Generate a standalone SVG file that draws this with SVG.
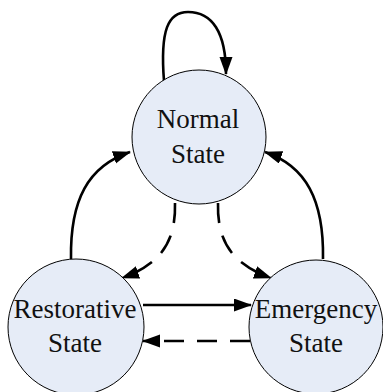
<svg xmlns="http://www.w3.org/2000/svg" width="383" height="392" viewBox="0 0 383 392">
  <style>
    .state circle { fill: #e6ecf7; stroke: #000; stroke-width: 1; }
    .state text { font-family: "Liberation Serif", "Times New Roman", serif; font-size: 27px; fill: #111; text-anchor: middle; }
    .edge { fill: none; stroke: #000; stroke-width: 2.6; marker-end: url(#head); }
    .dashed { stroke-dasharray: 20 13; }
  </style>
  <defs>
    <marker id="head" markerUnits="userSpaceOnUse" markerWidth="20" markerHeight="14" refX="17" refY="6.5" orient="auto">
      <path d="M0,0 L18,6.5 L0,13 Z" fill="#000"/>
    </marker>
  </defs>
  <rect width="383" height="392" fill="#fff"/>

  <!-- transitions -->
  <g id="connectors">
    <path class="edge" d="M164,81 C160,30 168,12 188,12 C212,12 226,32 226,74"/>
    <path class="edge" d="M71,259 C70,200 88,166 130,152"/>
    <path class="edge" d="M323,259 C324,200 306,166 265,152"/>
    <path class="edge dashed" d="M175,203 C176,240 162,264 122,278"/>
    <path class="edge dashed" d="M218,203 C217,240 231,264 271,278"/>
    <path class="edge" d="M143,305 L251,305"/>
    <path class="edge dashed" d="M250,341 L143,341"/>
  </g>

  <g id="normal" class="state">
    <circle cx="199" cy="137" r="67"/>
    <text x="198" y="128">Normal</text>
    <text x="198" y="163">State</text>
  </g>
  <g id="restorative" class="state">
    <circle cx="76" cy="327" r="68"/>
    <text x="75" y="318">Restorative</text>
    <text x="75" y="352">State</text>
  </g>
  <g id="emergency" class="state">
    <circle cx="316" cy="327" r="67"/>
    <text x="316" y="318">Emergency</text>
    <text x="316" y="352">State</text>
  </g>
</svg>
